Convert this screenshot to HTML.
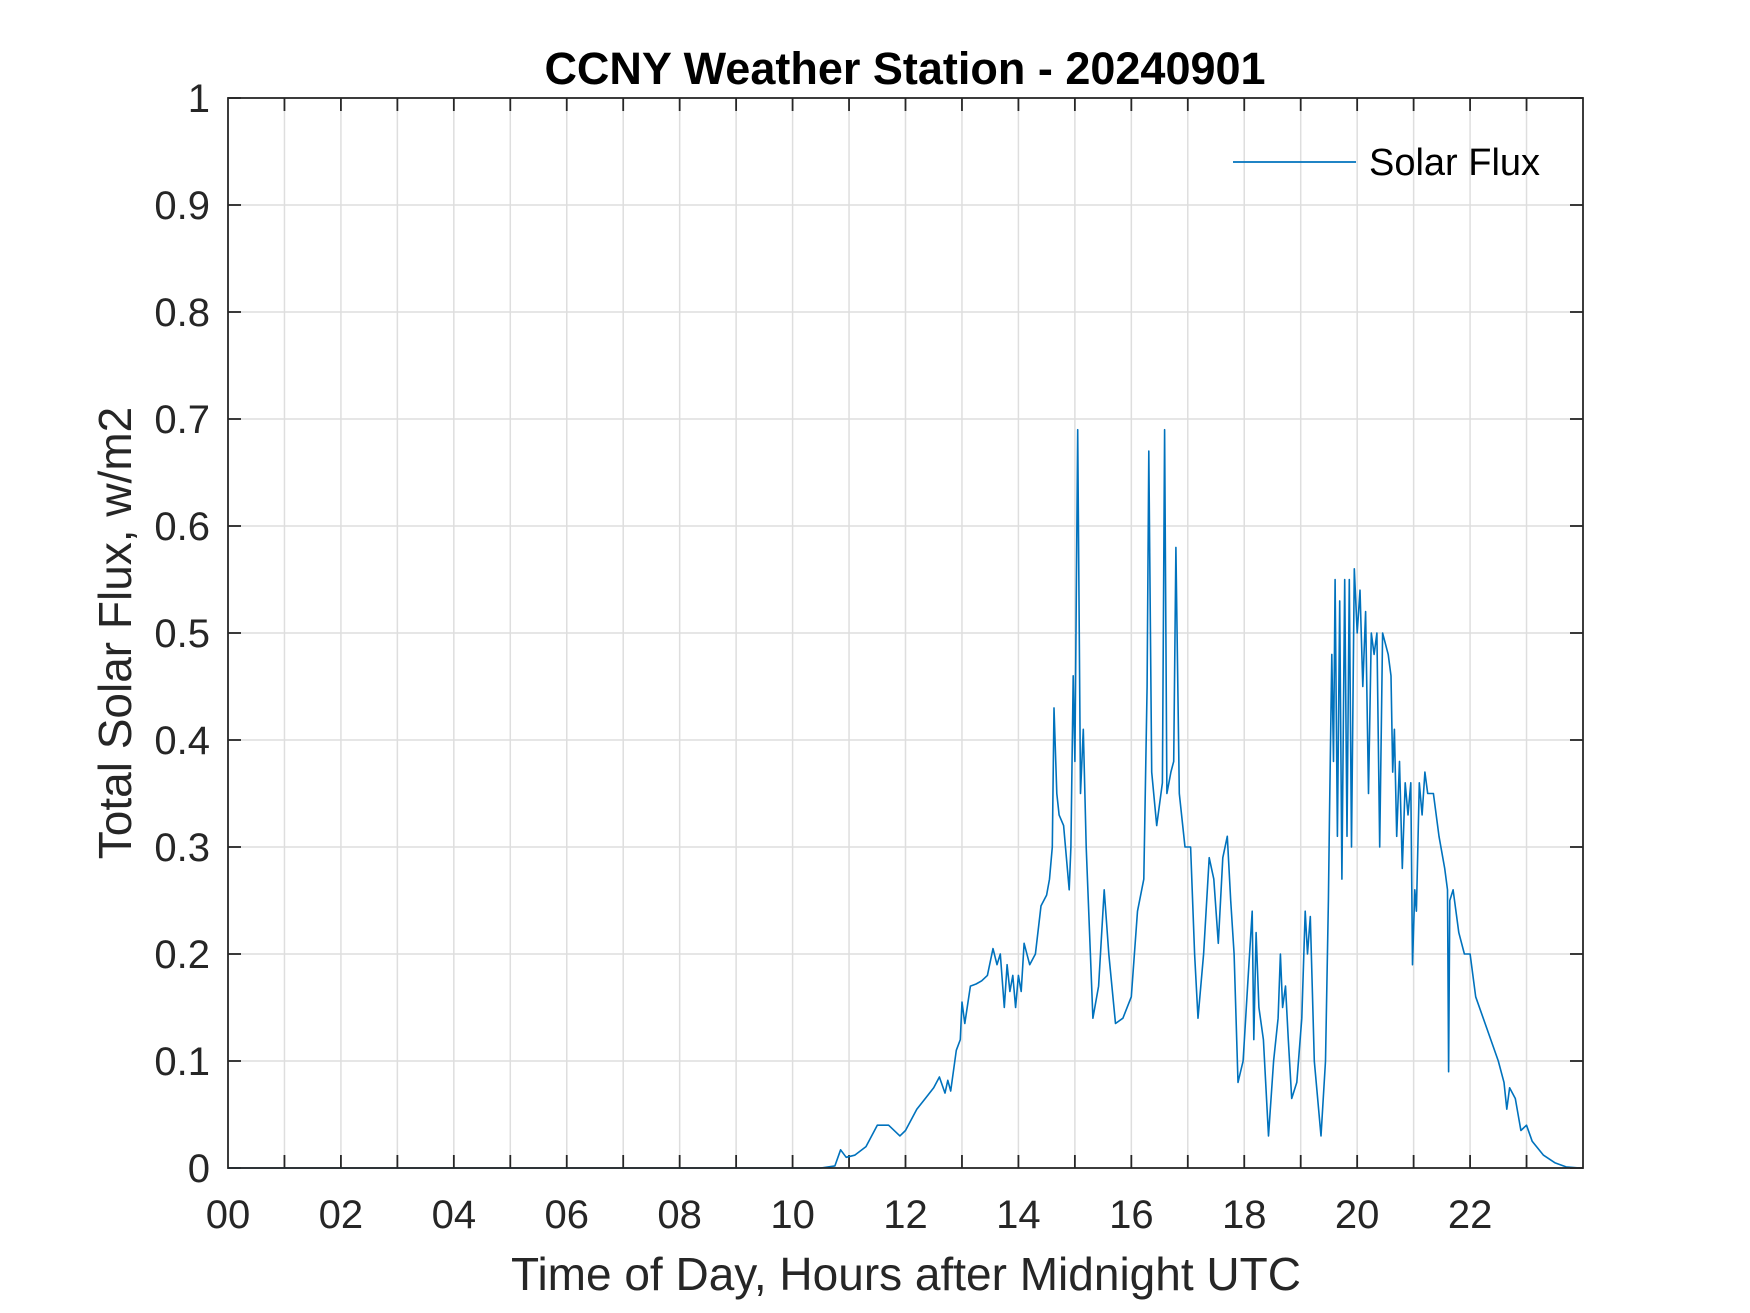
<!DOCTYPE html>
<html><head><meta charset="utf-8"><style>
html,body{margin:0;padding:0;background:#fff;}
svg{display:block;font-family:"Liberation Sans",Arial,sans-serif;}
</style></head><body>
<svg id="chart" width="1750" height="1313" viewBox="0 0 1750 1313" xmlns="http://www.w3.org/2000/svg">
<rect width="1750" height="1313" fill="#fff"/>
<g id="grid"></g>
<g id="ticks"></g>
<g id="series"></g>
<rect x="228" y="98" width="1355" height="1070" fill="none" stroke="#262626" stroke-width="1.8"/>
<text x="905" y="84" text-anchor="middle" font-size="45" font-weight="bold" fill="#000">CCNY Weather Station - 20240901</text>
<text x="906" y="1290" text-anchor="middle" font-size="46" fill="#262626">Time of Day, Hours after Midnight UTC</text>
<text transform="translate(131,633) rotate(-90)" text-anchor="middle" font-size="46" fill="#262626">Total Solar Flux, w/m2</text>
<g>
<line x1="1233" y1="162" x2="1356" y2="162" stroke="#0072BD" stroke-width="1.8"/>
<text x="1369" y="175" font-size="38" fill="#000">Solar Flux</text>
</g>
</svg>
<script>
const hours = [0,10.5,10.75,10.85,10.95,11.1,11.3,11.5,11.7,11.9,12.0,12.2,12.35,12.5,12.6,12.7,12.75,12.8,12.9,12.97,13.0,13.05,13.15,13.25,13.35,13.45,13.55,13.62,13.68,13.75,13.8,13.85,13.9,13.95,14.0,14.05,14.1,14.2,14.3,14.4,14.5,14.55,14.6,14.63,14.68,14.72,14.8,14.9,14.93,14.97,15.0,15.05,15.1,15.15,15.2,15.32,15.42,15.52,15.6,15.72,15.85,16.0,16.11,16.22,16.28,16.31,16.36,16.45,16.55,16.59,16.63,16.7,16.75,16.79,16.85,16.95,17.05,17.12,17.18,17.28,17.38,17.46,17.54,17.62,17.7,17.76,17.82,17.89,17.98,18.06,18.14,18.17,18.21,18.26,18.34,18.43,18.52,18.6,18.64,18.68,18.73,18.78,18.84,18.93,19.02,19.08,19.12,19.17,19.24,19.36,19.44,19.49,19.51,19.55,19.58,19.61,19.65,19.69,19.73,19.78,19.82,19.86,19.9,19.95,20.0,20.05,20.1,20.15,20.2,20.25,20.3,20.35,20.4,20.45,20.5,20.55,20.6,20.63,20.66,20.7,20.75,20.8,20.85,20.9,20.95,20.98,21.02,21.05,21.1,21.15,21.2,21.25,21.35,21.45,21.55,21.6,21.62,21.64,21.7,21.8,21.9,22.0,22.1,22.3,22.5,22.6,22.65,22.7,22.8,22.9,23.0,23.1,23.3,23.5,23.7,23.95];
const flux = [0,0,0.002,0.017,0.01,0.012,0.02,0.04,0.04,0.03,0.035,0.055,0.065,0.075,0.085,0.07,0.082,0.072,0.11,0.12,0.155,0.135,0.17,0.172,0.175,0.18,0.205,0.19,0.2,0.15,0.19,0.165,0.18,0.15,0.18,0.165,0.21,0.19,0.2,0.245,0.255,0.27,0.3,0.43,0.35,0.33,0.32,0.26,0.3,0.46,0.38,0.69,0.35,0.41,0.3,0.14,0.17,0.26,0.2,0.135,0.14,0.16,0.24,0.27,0.45,0.67,0.37,0.32,0.36,0.69,0.35,0.37,0.38,0.58,0.35,0.3,0.3,0.2,0.14,0.2,0.29,0.27,0.21,0.29,0.31,0.25,0.2,0.08,0.1,0.17,0.24,0.12,0.22,0.15,0.12,0.03,0.1,0.14,0.2,0.15,0.17,0.12,0.065,0.08,0.14,0.24,0.2,0.235,0.1,0.03,0.1,0.25,0.33,0.48,0.38,0.55,0.31,0.53,0.27,0.55,0.31,0.55,0.3,0.56,0.5,0.54,0.45,0.52,0.35,0.5,0.48,0.5,0.3,0.5,0.49,0.48,0.46,0.37,0.41,0.31,0.38,0.28,0.36,0.33,0.36,0.19,0.26,0.24,0.36,0.33,0.37,0.35,0.35,0.31,0.28,0.26,0.09,0.25,0.26,0.22,0.2,0.2,0.16,0.13,0.1,0.08,0.055,0.075,0.065,0.035,0.04,0.025,0.012,0.005,0.001,0];
const xTickLabels = ["00","02","04","06","08","10","12","14","16","18","20","22"];
const yTickLabels = ["0","0.1","0.2","0.3","0.4","0.5","0.6","0.7","0.8","0.9","1"];

const L=228,R=1583,T=98,B=1168;
const xs=h=>L+(R-L)*h/24;
const ys=v=>B-(B-T)*v/1;
const NS="http://www.w3.org/2000/svg";
const grid=document.getElementById('grid'),ticks=document.getElementById('ticks'),series=document.getElementById('series');
function mk(tag,attrs,parent){const e=document.createElementNS(NS,tag);for(const k in attrs)e.setAttribute(k,attrs[k]);parent.appendChild(e);return e;}
for(let h=1;h<24;h++){
  const g=mk('line',{x1:xs(h),x2:xs(h),y1:T,y2:B,stroke:'#dedede','stroke-width':1.5},grid);
  
  
}
for(let h=1;h<24;h++){
  const t1=mk('line',{x1:xs(h),x2:xs(h),y1:B,y2:B-13,stroke:'#262626','stroke-width':1.8},ticks);
  
  
  const t2=mk('line',{x1:xs(h),x2:xs(h),y1:T,y2:T+13,stroke:'#262626','stroke-width':1.8},ticks);
  
  
}
xTickLabels.forEach((lab,i)=>{
  const t=mk('text',{x:xs(i*2),y:1228,'text-anchor':'middle','font-size':40,fill:'#262626'},ticks);
  t.textContent=lab;
  
  
});
yTickLabels.forEach((lab,i)=>{
  const v=parseFloat(lab);
  if(i>0&&i<yTickLabels.length-1){
    const g=mk('line',{x1:L,x2:R,y1:ys(v),y2:ys(v),stroke:'#dedede','stroke-width':1.5},grid);
    
    
  }
  const a=mk('line',{x1:L,x2:L+13,y1:ys(v),y2:ys(v),stroke:'#262626','stroke-width':1.8},ticks);
  
  
  const b=mk('line',{x1:R,x2:R-13,y1:ys(v),y2:ys(v),stroke:'#262626','stroke-width':1.8},ticks);
  
  
  const t=mk('text',{x:210,y:ys(v)+14,'text-anchor':'end','font-size':40,fill:'#262626'},ticks);
  t.textContent=lab;
  
  
});
const pts=hours.map((h,i)=>xs(h).toFixed(1)+','+ys(flux[i]).toFixed(1)).join(' ');
const pl=mk('polyline',{points:pts,fill:'none',stroke:'#0072BD','stroke-width':1.6,'stroke-linejoin':'round'},series);


</script>
</body></html>
